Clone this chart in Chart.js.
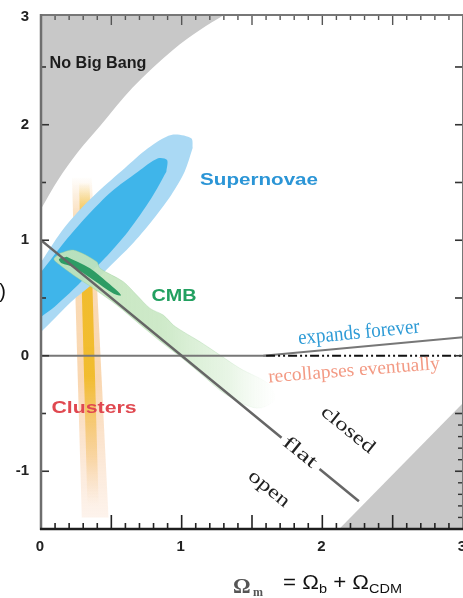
<!DOCTYPE html>
<html>
<head>
<meta charset="utf-8">
<script src="https://cdn.jsdelivr.net/npm/chart.js@4/dist/chart.umd.min.js"></script>
<style>
  html, body { margin: 0; padding: 0; background: #fff; overflow: hidden; width: 463px; height: 598px; }
  canvas { display: block; }
</style>
</head>
<body>
<canvas id="c" width="480" height="598"></canvas>
<script>
// Axis labels
const xTickValues = [0, 1, 2, 3];
const yTickValues = [-1, 0, 1, 2, 3];

// Region boundaries in the (Omega_m, Omega_Lambda) plane
const noBigBangEdge = [[0, 1.27], [0.12, 1.52], [0.26, 1.76], [0.42, 1.99], [0.65, 2.32],
  [0.94, 2.65], [1.13, 2.82], [1.30, 2.95], [1.45, 3.06]];
const recollapseEdge = [[2.12, -1.5], [3.0, -0.41]];

// Supernovae confidence contours (outer 95%, inner 68%)
const snOuter = [[1.078, 1.798], [1.021, 1.593], [0.926, 1.392], [0.784, 1.160], [0.642, 0.958],
  [0.499, 0.785], [0.358, 0.612], [0.215, 0.468], [0.073, 0.294], [0.002, 0.208],
  [-0.149, 0.049], [-0.256, 0.032], [-0.291, 0.136], [-0.149, 0.537], [0.002, 0.814],
  [0.144, 1.074], [0.263, 1.247], [0.405, 1.420], [0.595, 1.623], [0.760, 1.796],
  [0.926, 1.911], [1.068, 1.882], [1.078, 1.798]];
const snInner = [[0.891, 1.593], [0.784, 1.363], [0.618, 1.074], [0.453, 0.843], [0.263, 0.612],
  [0.097, 0.424], [0.002, 0.338], [-0.114, 0.240], [-0.206, 0.223], [-0.235, 0.309],
  [-0.114, 0.569], [0.002, 0.727], [0.168, 0.987], [0.334, 1.218], [0.500, 1.420],
  [0.689, 1.593], [0.832, 1.709], [0.896, 1.694], [0.891, 1.593]];

// Cluster constraint bands
const clustersOuter = [[0.22, 1.55], [0.36, 1.55], [0.48, -1.4], [0.29, -1.4], [0.22, 1.55]];
const clustersInner = [[0.27, 1.5], [0.345, 1.5], [0.41, -1.3], [0.33, -1.3], [0.27, 1.5]];

// CMB constraint contours
const cmbOuter = [[0.135, 0.887], [0.230, 0.915], [0.396, 0.814], [0.419, 0.757], [0.585, 0.641],
  [0.680, 0.526], [0.775, 0.410], [0.869, 0.352], [0.940, 0.266], [1.011, 0.208],
  [1.130, 0.121], [1.272, 0.006], [1.414, -0.109], [1.628, -0.254], [1.663, -0.384],
  [1.533, -0.453], [1.320, -0.340], [1.130, -0.150], [1.011, -0.029], [0.846, 0.127],
  [0.704, 0.270], [0.538, 0.439], [0.372, 0.584], [0.230, 0.699], [0.135, 0.785],
  [0.092, 0.837], [0.135, 0.887]];
const cmbInner = [[0.183, 0.857], [0.348, 0.757], [0.467, 0.641], [0.549, 0.554], [0.569, 0.521],
  [0.514, 0.539], [0.372, 0.655], [0.230, 0.768], [0.147, 0.800], [0.128, 0.837], [0.183, 0.857]];

// Reference lines
const flatLine = [[0, 1], [1.71, -0.71], [1.85, null], [1.98, -0.98], [2.26, -1.26]];
const zeroLine = [[0, 0], [1.6, 0]];
const expansionEdge = [[1.58, 0], [3.0, 0.16]];
const recollapseLine = [[1.6, 0], [3.0, 0]];

const pts = a => a.map(([x, y]) => ({ x, y }));

function gradient(axis, from, to, stops, fallback) {
  return (c) => {
    const chart = c.chart;
    if (!chart.chartArea) return fallback;
    const s = chart.scales[axis];
    const p0 = s.getPixelForValue(from), p1 = s.getPixelForValue(to);
    const g = axis === 'x'
      ? chart.ctx.createLinearGradient(p0, 0, p1, 0)
      : chart.ctx.createLinearGradient(0, p0, 0, p1);
    stops.forEach(([o, col]) => g.addColorStop(o, col));
    return g;
  };
}

function area(data, color, extra) {
  return Object.assign({
    data: pts(data), showLine: true, fill: 'shape', backgroundColor: color,
    borderColor: 'transparent', borderWidth: 0, pointRadius: 0, tension: 0.3
  }, extra || {});
}
function stroke(data, color, width, extra) {
  return Object.assign({
    data: pts(data), showLine: true, fill: false, borderColor: color,
    borderWidth: width, pointRadius: 0, tension: 0, spanGaps: false
  }, extra || {});
}

// listed front to back
const datasets = [
  stroke(flatLine, '#666', 2.5),
  stroke(zeroLine, '#777', 2.2),
  stroke(recollapseLine, '#111', 2, { borderDash: [9, 3, 2, 3, 2, 3] }),
  stroke(expansionEdge, '#777', 2),
  area(cmbInner, '#2d9c64', { tension: 0.3 }),
  area(cmbOuter, gradient('x', 0.1, 1.65, [[0, 'rgba(192,227,185,0.95)'], [0.5, 'rgba(198,230,192,0.85)'],
    [0.8, 'rgba(210,236,205,0.5)'], [1, 'rgba(230,245,226,0.05)']], '#c4e4bb'),
    { tension: 0.3, borderColor: gradient('x', 0.1, 1.65, [[0, 'rgba(150,205,150,0.45)'], [0.7, 'rgba(150,205,150,0.3)'], [1, 'rgba(150,205,150,0)']], 'rgba(150,205,150,0.4)'), borderWidth: 1 }),
  area(snInner, '#3fb5ea'),
  area(snOuter, '#aad9f4'),
  area(clustersInner, gradient('y', 1.5, -1.3, [[0, 'rgba(240,190,40,0)'], [0.12, 'rgba(238,182,22,0.85)'],
    [0.6, 'rgba(240,184,25,0.85)'], [0.85, 'rgba(245,190,100,0.45)'], [1, 'rgba(245,200,150,0)']], '#efb51a'), { tension: 0 }),
  area(clustersOuter, gradient('y', 1.55, -1.4, [[0, 'rgba(245,190,120,0)'], [0.12, 'rgba(245,186,112,0.5)'],
    [0.6, 'rgba(245,182,112,0.55)'], [1, 'rgba(246,196,160,0.2)']], '#f5ba70'), { tension: 0 }),
  Object.assign(stroke(noBigBangEdge, 'transparent', 0), { fill: 'end', backgroundColor: '#c8c8c8', cubicInterpolationMode: 'monotone' }),
  Object.assign(stroke(recollapseEdge, 'transparent', 0), { fill: 'start', backgroundColor: '#c8c8c8' })
].map((d, i) => Object.assign(d, { order: i }));

// Text placed on the plane (data coordinates)
const notes = [
  { text: 'No Big Bang', x: 0.405, y: 2.53, font: 'bold 16px "Liberation Sans Narrow", "Liberation Sans"', color: '#1c1c1c', width: 97, angle: 0 },
  { text: 'Supernovae', x: 1.55, y: 1.52, font: 'bold 17px "Liberation Sans"', color: '#2b95d6', width: 118, angle: 0 },
  { text: 'CMB', x: 0.945, y: 0.508, font: 'bold 16px "Liberation Sans"', color: '#22a060', width: 45, angle: 0 },
  { text: 'Clusters', x: 0.377, y: -0.455, font: 'bold 16px "Liberation Sans"', color: '#e04850', width: 85, angle: 0 },
  { text: 'expands forever', x: 2.26, y: 0.197, font: '21px "Liberation Serif"', color: '#2e9bd6', width: 122, angle: -5.5 },
  { text: 'recollapses eventually', x: 2.225, y: -0.13, font: '19px "Liberation Serif"', color: '#f39a84', width: 172, angle: -4.5 },
  { text: 'closed', x: 2.18, y: -0.643, font: '19px "Liberation Serif"', color: '#222', width: 64, angle: 39 },
  { text: 'flat', x: 1.84, y: -0.838, font: '19px "Liberation Serif"', color: '#222', width: 39, angle: 39 },
  { text: 'open', x: 1.62, y: -1.154, font: '19px "Liberation Serif"', color: '#222', width: 48, angle: 39 }
];

function seg(ctx, x0, y0, x1, y1, color, w) {
  ctx.strokeStyle = color; ctx.lineWidth = w;
  ctx.beginPath(); ctx.moveTo(x0, y0); ctx.lineTo(x1, y1); ctx.stroke();
}

const frame = {
  id: 'frame',
  afterDatasetsDraw(chart) {
    const { ctx, chartArea: a, scales: { x: sx, y: sy } } = chart;
    ctx.save();
    // ticks point into the plot
    for (let i = 0; i <= 30; i++) {
      const px = sx.getPixelForValue(i / 10);
      const major = i % 5 === 0;
      seg(ctx, px, a.bottom, px, a.bottom - (major ? 14 : 6), '#222', 1.6);
      seg(ctx, px, a.top, px, a.top + (major ? 10 : 5), '#555', 1.4);
    }
    for (let i = -3; i <= 6; i++) {
      const py = sy.getPixelForValue(i / 2);
      if (py < a.top - 1) continue;
      seg(ctx, a.left, py, a.left + (i % 2 === 0 ? 8 : 5), py, '#333', 1.6);
      seg(ctx, a.right, py, a.right - 8, py, '#333', 1.6);
    }
    for (let i = -14; i <= -5; i++) {
      if (i % 5 === 0) continue;
      const py = sy.getPixelForValue(i / 10);
      seg(ctx, a.right, py, a.right - 5, py, '#333', 1.4);
    }
    // frame
    seg(ctx, a.left, a.top, a.right, a.top, '#777', 2);
    seg(ctx, a.right, a.top, a.right, a.bottom, '#777', 2);
    seg(ctx, a.left, a.top - 1, a.left, a.bottom + 1, '#6e6e6e', 2.5);
    seg(ctx, a.left - 1, a.bottom, a.right, a.bottom, '#1e1e1e', 2.5);

    // tick labels
    ctx.font = 'bold 15px "Liberation Sans"';
    ctx.fillStyle = '#222';
    ctx.textBaseline = 'middle';
    ctx.textAlign = 'center';
    xTickValues.forEach(v => ctx.fillText(String(v), sx.getPixelForValue(v) - 1, a.bottom + 18));
    ctx.textAlign = 'right';
    yTickValues.forEach(v => {
      const py = Math.max(sy.getPixelForValue(v), a.top + 2);
      ctx.fillText(String(v), a.left - 12, py);
    });

    // annotations
    notes.forEach(n => {
      ctx.save();
      ctx.translate(sx.getPixelForValue(n.x), sy.getPixelForValue(n.y));
      ctx.rotate(n.angle * Math.PI / 180);
      ctx.font = n.font;
      const w = ctx.measureText(n.text).width;
      ctx.scale(n.width / w, 1);
      ctx.fillStyle = n.color;
      ctx.textAlign = 'center';
      ctx.textBaseline = 'middle';
      ctx.fillText(n.text, 0, 0);
      ctx.restore();
    });
    ctx.restore();
  },
  afterDraw(chart) {
    const { ctx, chartArea: a } = chart;
    ctx.save();
    ctx.textBaseline = 'alphabetic';
    ctx.textAlign = 'left';
    // x-axis title: Omega_m = Omega_b + Omega_CDM
    ctx.fillStyle = '#555';
    ctx.font = 'bold 22px "Liberation Serif"';
    ctx.fillText('Ω', 233, a.bottom + 64);
    ctx.font = 'bold 12px "Liberation Serif"';
    ctx.fillText('m', 253, a.bottom + 67);
    const parts = [['= Ω', 20, 0], ['b', 13, 4], [' + Ω', 20, 0], ['CDM', 13, 4]];
    let total = 0;
    parts.forEach(p => { ctx.font = p[1] + 'px "Liberation Sans"'; p.push(ctx.measureText(p[0]).width); total += p[3]; });
    const k = 119 / total;
    let cx = 283;
    ctx.fillStyle = '#111';
    parts.forEach(p => {
      ctx.save();
      ctx.font = p[1] + 'px "Liberation Sans"';
      ctx.translate(cx, a.bottom + 60 + p[2]);
      ctx.scale(k, 1);
      ctx.fillText(p[0], 0, 0);
      ctx.restore();
      cx += p[3] * k;
    });
    // tail of the vertical-axis caption
    ctx.font = '20px "Liberation Sans"';
    ctx.textAlign = 'right';
    ctx.textBaseline = 'middle';
    ctx.fillText(')', 6, (a.top + a.bottom) / 2 + 20);
    ctx.restore();
  }
};

new Chart(document.getElementById('c'), {
  type: 'scatter',
  data: { datasets },
  options: {
    responsive: false,
    animation: false,
    devicePixelRatio: 1,
    layout: { padding: { left: 41, top: 15, right: 17, bottom: 69 } },
    scales: {
      x: { type: 'linear', min: 0, max: 3, display: false },
      y: { type: 'linear', min: -1.5, max: 2.95, display: false }
    },
    plugins: { legend: { display: false }, tooltip: { enabled: false } }
  },
  plugins: [frame]
});
</script>
</body>
</html>
